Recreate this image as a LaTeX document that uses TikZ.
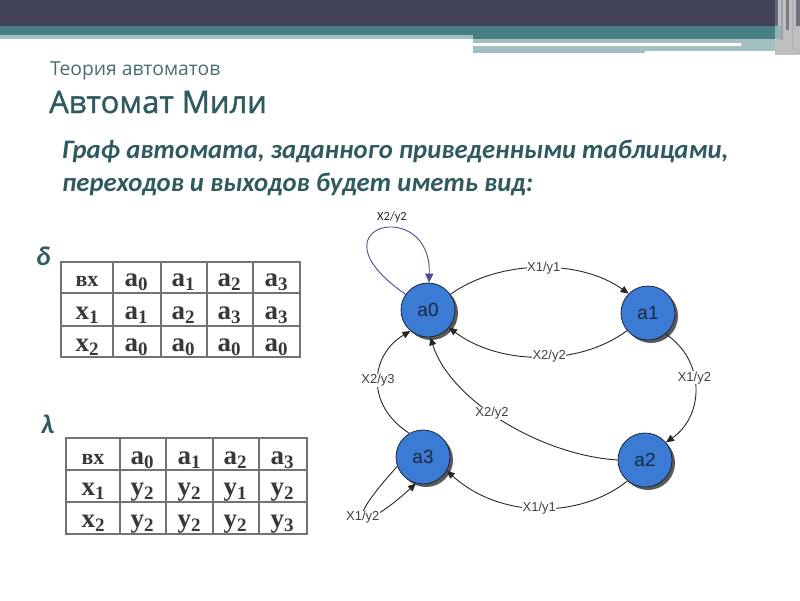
\documentclass[tikz,border=0pt]{standalone}
\usepackage{fontspec}
\setmainfont{Carlito}
\newfontfamily\arialf{Liberation Sans}
\newfontfamily\timesf{Liberation Serif}
\newfontfamily\opensf{Open Sans}
\newfontfamily\opensfb[FakeBold=1.2]{Open Sans}
\usetikzlibrary{arrows.meta,shadows}
\definecolor{hdark}{HTML}{414256}
\definecolor{hteal}{HTML}{477F84}
\definecolor{hlight}{HTML}{A3BFC1}
\definecolor{ttl}{HTML}{2F5A5F}
\definecolor{ttlb}{HTML}{4A6B6F}
\definecolor{nodeblue}{HTML}{3B7BD3}
\definecolor{nodeedge}{HTML}{1B2740}
\definecolor{loopc}{HTML}{4B4B8F}
\newcommand\sbx[1]{\raisebox{-4pt}{\fontsize{19}{19}\selectfont #1}}
\tikzset{
  state/.style={circle, minimum size=54pt, inner sep=0pt, fill=nodeblue, draw=nodeedge, line width=0.8pt,
    drop shadow={shadow xshift=3pt, shadow yshift=-3pt, fill=black!65, opacity=1},
    font=\arialf\fontsize{19}{19}\selectfont, text=nodeedge},
  edge/.style={draw=black!85, line width=0.9pt, -{Triangle[length=8pt,width=7pt]}},
  elab/.style={fill=white, inner sep=0.5pt, font=\arialf\fontsize{13}{13}\selectfont, text=black!75},
  cell/.style={anchor=base, font=\timesf\bfseries\fontsize{27}{27}\selectfont, text=black!78, inner sep=0pt},
  hcell/.style={anchor=base, font=\timesf\bfseries\fontsize{22}{22}\selectfont, text=black!78, inner sep=0pt},
  grid/.style={draw=black!55, line width=1.4pt},
}
\begin{document}
\begin{tikzpicture}[x=1pt,y=1pt]
\useasboundingbox (0,0) rectangle (800,-600);
% header
\fill[hdark] (0,0) rectangle (800,-26);
\fill[hteal] (0,-26) rectangle (800,-35);
\fill[hteal] (473,-35) rectangle (775,-39);
\fill[hlight] (0,-35) rectangle (473,-39);
\fill[hlight] (473,-39) rectangle (790,-53);
\fill[white] (473,-43) rectangle (741,-46);
\fill[white] (645,-51) rectangle (775,-54);
\fill[black!25] (775,0) rectangle (800,-55);
\fill[hdark!80] (775,0) rectangle (778,-26);
\fill[hdark!50] (781,0) rectangle (783,-40);
\fill[hdark!70] (786,0) rectangle (789,-30);
\fill[hdark!40] (792,0) rectangle (794,-50);
\fill[hdark!75] (796,0) rectangle (800,-26);
\fill[hteal!60] (775,-26) rectangle (781,-39);
% titles
\node[anchor=base west, inner sep=0pt, text=ttlb, font=\opensf\fontsize{19.3}{20}\selectfont] (t1) at (50,-75) {Теория автоматов};
\node[anchor=base west, inner sep=0pt, text=ttl, font=\opensfb\fontsize{31}{32}\selectfont] (t2) at (49,-113) {Автомат Мили};
\node[anchor=base west, inner sep=0pt, text=ttl, font=\bfseries\itshape\fontsize{26.7}{27}\selectfont] (s1) at (62,-158) {Граф автомата, заданного приведенными таблицами,};
\node[anchor=base west, inner sep=0pt, text=ttl, font=\bfseries\itshape\fontsize{26.7}{27}\selectfont] (s2) at (62,-191) {переходов и выходов будет иметь вид:};
\node[anchor=base west, inner sep=0pt, text=ttl, font=\bfseries\itshape\fontsize{27}{27}\selectfont] (delta) at (36,-265) {δ};
\node[anchor=base west, inner sep=0pt, text=ttl, font=\bfseries\itshape\fontsize{27}{27}\selectfont] (lam) at (41,-433) {λ};
% table 1
\draw[grid] (61,-262) rectangle (300,-357);
\foreach \x in {113,161,207,253} \draw[grid] (\x,-262) -- (\x,-357);
\foreach \y in {293,326} \draw[grid] (61,-\y) -- (300,-\y);
\node[hcell] (d00) at (87,-286) {вх};
\node[cell] (d01) at (136,-286) {a\sbx{0}};
\node[cell] (d02) at (183,-286) {a\sbx{1}};
\node[cell] (d03) at (229,-286) {a\sbx{2}};
\node[cell] (d04) at (276,-286) {a\sbx{3}};
\node[cell] (d10) at (87,-319) {x\sbx{1}};
\node[cell] (d11) at (136,-319) {a\sbx{1}};
\node[cell] (d12) at (183,-319) {a\sbx{2}};
\node[cell] (d13) at (229,-319) {a\sbx{3}};
\node[cell] (d14) at (276,-319) {a\sbx{3}};
\node[cell] (d20) at (87,-351) {x\sbx{2}};
\node[cell] (d21) at (136,-351) {a\sbx{0}};
\node[cell] (d22) at (183,-351) {a\sbx{0}};
\node[cell] (d23) at (229,-351) {a\sbx{0}};
\node[cell] (d24) at (276,-351) {a\sbx{0}};
% table 2
\draw[grid] (66,-438) rectangle (307,-534);
\foreach \x in {120,166,213,259} \draw[grid] (\x,-438) -- (\x,-534);
\foreach \y in {470,502} \draw[grid] (66,-\y) -- (307,-\y);
\node[hcell] (l00) at (93,-464) {вх};
\node[cell] (l01) at (142,-464) {a\sbx{0}};
\node[cell] (l02) at (189,-464) {a\sbx{1}};
\node[cell] (l03) at (235,-464) {a\sbx{2}};
\node[cell] (l04) at (282,-464) {a\sbx{3}};
\node[cell] (l10) at (93,-495) {x\sbx{1}};
\node[cell] (l11) at (142,-495) {y\sbx{2}};
\node[cell] (l12) at (189,-495) {y\sbx{2}};
\node[cell] (l13) at (235,-495) {y\sbx{1}};
\node[cell] (l14) at (282,-495) {y\sbx{2}};
\node[cell] (l20) at (93,-527) {x\sbx{2}};
\node[cell] (l21) at (142,-527) {y\sbx{2}};
\node[cell] (l22) at (189,-527) {y\sbx{2}};
\node[cell] (l23) at (235,-527) {y\sbx{2}};
\node[cell] (l24) at (282,-527) {y\sbx{3}};
% states
\node[state] (a0) at (428,-310) {a0};
\node[state] (a1) at (648,-313) {a1};
\node[state] (a3) at (423,-457) {a3};
\node[state] (a2) at (645,-460) {a2};
% edges
\draw[edge, draw=loopc, -{Triangle[length=9pt,width=8pt]}] (a0.145) .. controls (305,-225) and (432,-195) .. (a0.88);
\node[inner sep=0pt, font=\fontsize{12.5}{13}\selectfont, text=black!85] (lloop) at (392,-217) {X2/y2};
\draw[edge] (a0.35) .. controls (500,-259) and (580,-259) .. node[elab, pos=0.52] (l01e) {X1/y1} (a1.135);
\draw[edge] (a1.220) .. controls (580,-366) and (500,-366) .. node[elab, pos=0.45] (l10e) {X2/y2} (a0.-40);
\draw[edge] (a1.-50) .. controls (705,-360) and (705,-415) .. node[elab, pos=0.42] (l12e) {X1/y2} (a2.40);
\draw[edge] (a2.180) .. controls (540,-455) and (450,-400) .. node[elab, pos=0.55] (l20e) {X2/y2} (a0.-85);
\draw[edge] (a3.120) .. controls (365,-405) and (370,-355) .. node[elab, pos=0.5] (l30e) {X2/y3} (a0.-130);
\draw[edge] (a2.-130) .. controls (580,-519) and (500,-519) .. node[elab, pos=0.5] (l23e) {X1/y1} (a3.-30);
\draw[edge] (a3.200) .. controls (335,-535) and (365,-530) .. node[elab, pos=0.45] (l33e) {X1/y2} (a3.-105);
\end{tikzpicture}
\end{document}
